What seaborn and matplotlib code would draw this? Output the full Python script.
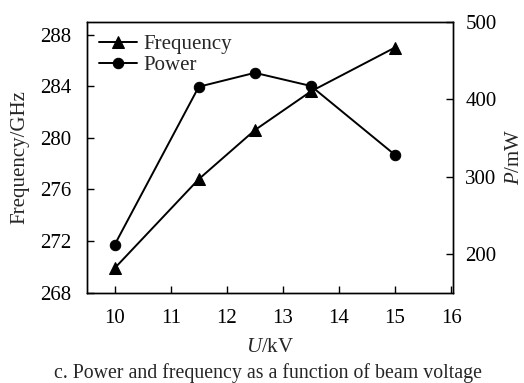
import matplotlib
matplotlib.use("Agg")
import matplotlib.pyplot as plt
import seaborn as sns
import pandas as pd

voltage = [10, 11.5, 12.5, 13.5, 15]
frequency = [269.9, 276.8, 280.6, 283.6, 287.0]
power = [212, 416, 434, 417, 328]

sns.set_theme(style="ticks")
plt.rcParams['font.family'] = ['Liberation Serif', 'DejaVu Serif']
plt.rcParams['mathtext.fontset'] = 'custom'
plt.rcParams['mathtext.rm'] = 'Liberation Serif'
plt.rcParams['mathtext.it'] = 'Liberation Serif:italic'

df = pd.DataFrame({"U": voltage, "Frequency": frequency, "Power": power})

fig = plt.figure(figsize=(5.24, 3.83), dpi=100)
ax = fig.add_axes([0.1654, 0.2358, 0.864 - 0.1654, 0.9433 - 0.2358])
ax2 = ax.twinx()

fs = 15
sns.lineplot(data=df, x="U", y="Frequency", ax=ax, color="black", marker="^",
             markersize=8.5, linewidth=1.4, markeredgecolor="black", label="Frequency", legend=False)
sns.lineplot(data=df, x="U", y="Power", ax=ax2, color="black", marker="o",
             markersize=7.5, linewidth=1.4, markeredgecolor="black", label="Power", legend=False)

ax.set_xlim(9.5, 16.03)
ax.set_ylim(268, 289)
ax2.set_ylim(150, 500)
ax.set_xticks([10, 11, 12, 13, 14, 15, 16])
ax.set_yticks([268, 272, 276, 280, 284, 288])
ax2.set_yticks([200, 300, 400, 500])

for a in (ax, ax2):
    a.tick_params(direction="in", length=5, width=1, labelsize=fs, colors="black")
    for s in a.spines.values():
        s.set_linewidth(1.0)
        s.set_color("black")
ax.tick_params(axis="x", pad=12)
ax.tick_params(axis="y", pad=11)
ax2.tick_params(axis="y", pad=9)

ax.set_xlabel(r"$\mathit{U}$/kV", fontsize=fs, labelpad=7)
ax.set_ylabel("Frequency/GHz", fontsize=fs, labelpad=8)
ax2.set_ylabel(r"$\mathit{P}$/mW", fontsize=fs, labelpad=6)

h1, l1 = ax.get_legend_handles_labels()
h2, l2 = ax2.get_legend_handles_labels()
ax.legend(h1 + h2, l1 + l2, loc="upper left", frameon=False, fontsize=fs,
          handlelength=1.8, handletextpad=0.3, borderaxespad=0.2, labelspacing=0.1)

fig.text(0.5115, 0.027, "c. Power and frequency as a function of beam voltage",
         ha="center", va="center", fontsize=14.3)

fig.savefig("out.png", dpi=100)
